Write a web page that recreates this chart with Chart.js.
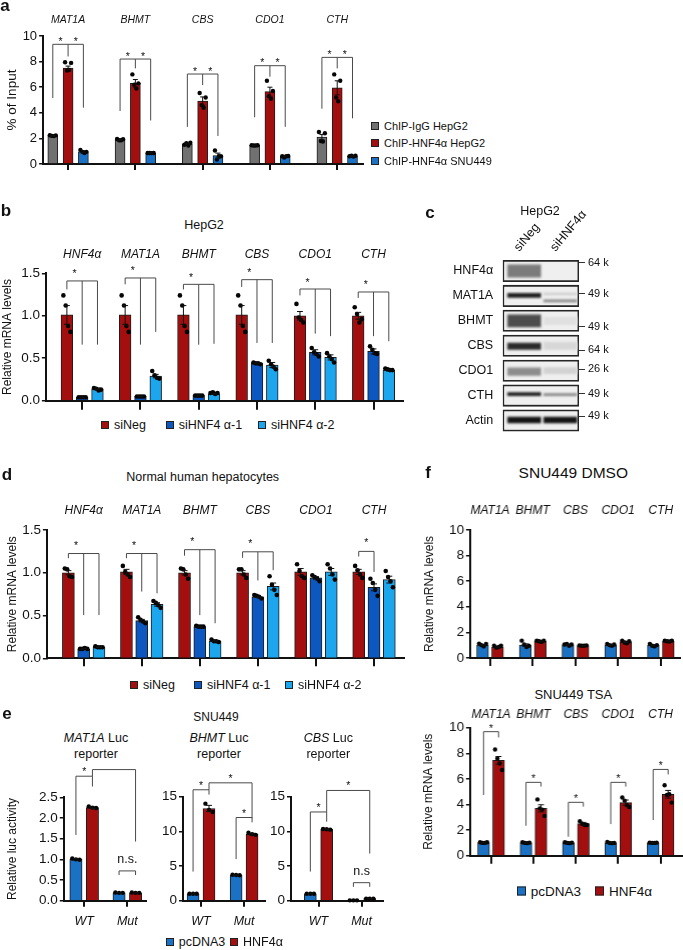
<!DOCTYPE html>
<html>
<head>
<meta charset="utf-8">
<title>HNF4α targets</title>
<script src="https://cdn.jsdelivr.net/npm/chart.js@4.4.1/dist/chart.umd.min.js"></script>
<style>
  body { margin: 0; background: #fff; }
  #fig { position: relative; width: 683px; height: 950px; overflow: hidden; background: #fff;
         font-family: "Liberation Sans", Arial, Helvetica, sans-serif; color: #111; }
  #fig canvas { position: absolute; }
  .t { position: absolute; transform: translate(-50%, -50%); white-space: nowrap; text-align: center; }
  .p { position: absolute; transform: translate(-50%, -50%); font-weight: bold; }
  .leg { position: absolute; display: flex; align-items: center; white-space: nowrap; transform: translateY(-50%); }
  .sw { display: inline-block; box-sizing: border-box; border: 1px solid #222; margin-right: 5px; }
</style>
</head>
<body>
<div id="fig"></div>
<script>
// ---------- a: ChIP, % of input
const aGenes = ['MAT1A', 'BHMT', 'CBS', 'CDO1', 'CTH'];
const aSeries = ['ChIP-IgG HepG2', 'ChIP-HNF4α HepG2', 'ChIP-HNF4α SNU449'];
const aTicks = [0, 2, 4, 6, 8, 10];
const aIgG = [2.2, 1.88, 1.56, 1.45, 2.1];
const aIgGSem = [0.03, 0.04, 0.06, 0.02, 0.2];
const aIgGPts = [[2.25, 2.2, 2.18, 2.24], [1.95, 1.86, 1.85, 1.93], [1.5, 1.62, 1.45, 1.66], [1.46, 1.44, 1.45, 1.47], [2.5, 1.8, 1.75, 2.4]];
const aHep = [7.5, 6.3, 4.92, 5.65, 5.95];
const aHepSem = [0.15, 0.3, 0.32, 0.35, 0.55];
const aHepPts = [[7.95, 7.3, 7.35, 7.9], [7.0, 6.2, 5.9, 6.3], [5.55, 4.6, 4.4, 5.2], [6.5, 5.3, 5.1, 5.7], [7.0, 5.2, 4.9, 6.5]];
const aSnu = [0.96, 0.86, 0.65, 0.58, 0.62];
const aSnuSem = [0.08, 0.01, 0.2, 0.05, 0.03];
const aSnuPts = [[1.1, 0.95, 0.85, 0.95], [0.86, 0.86, 0.85, 0.86], [1.05, 0.35, 0.6, 0.6], [0.6, 0.5, 0.6, 0.62], [0.6, 0.65, 0.58, 0.65]];
const aBrTop = [9.35, 8.2, 7.03, 7.68, 8.33];
const aBrLegs = [[5.15, 8.4, 4.4], [4.14, 7.47, 3.4], [2.9, 6.17, 2.19], [3.65, 6.82, 2.9], [4.32, 7.47, 3.57]];

// ---------- b: HepG2 knockdown
const bGenes = ['HNF4α', 'MAT1A', 'BHMT', 'CBS', 'CDO1', 'CTH'];
const siSeries = ['siNeg', 'siHNF4 α-1', 'siHNF4 α-2'];
const mTicks = [0, 0.5, 1.0, 1.5];
const bNeg = [1.01, 1.01, 1.01, 1.01, 1.0, 1.0];
const bNegSem = [0.11, 0.11, 0.11, 0.11, 0.05, 0.04];
const bNegPts = [[1.24, 1.12, 0.88, 0.81], [1.24, 1.12, 0.88, 0.81], [1.24, 1.12, 0.88, 0.81], [1.24, 1.12, 0.88, 0.81], [1.14, 0.98, 0.95, 0.92], [1.1, 1.02, 0.92, 0.96]];
const bSi1 = [0.04, 0.05, 0.06, 0.44, 0.57, 0.58];
const bSi1Sem = [0.004, 0.004, 0.004, 0.006, 0.03, 0.03];
const bSi1Pts = [[0.04, 0.04, 0.04, 0.04], [0.05, 0.05, 0.05, 0.05], [0.06, 0.06, 0.06, 0.06], [0.45, 0.44, 0.44, 0.43], [0.62, 0.57, 0.55, 0.52], [0.64, 0.6, 0.56, 0.55]];
const bSi2 = [0.14, 0.29, 0.08, 0.42, 0.51, 0.36];
const bSi2Sem = [0.01, 0.02, 0.005, 0.03, 0.03, 0.01];
const bSi2Pts = [[0.15, 0.14, 0.12, 0.13], [0.35, 0.3, 0.27, 0.26], [0.09, 0.1, 0.08, 0.09], [0.47, 0.43, 0.4, 0.37], [0.56, 0.52, 0.49, 0.45], [0.38, 0.37, 0.36, 0.36]];
const bBrTop = [1.41, 1.445, 1.37, 1.425, 1.315, 1.28];
const bBrLegs = [[1.31, 0.66, 0.66], [1.37, 0.66, 0.81], [1.31, 0.66, 0.67], [1.34, 0.68, 0.68], [1.24, 0.79, 0.76], [1.21, 0.76, 0.70]];

// ---------- c: western blot (HepG2)
const blotLanes = ['siNeg', 'siHNF4α'];
const blotRows = ['HNF4α', 'MAT1A', 'BHMT', 'CBS', 'CDO1', 'CTH', 'Actin'];
const blotMW = ['64 k', '49 k', '49 k', '64 k', '26 k', '49 k', '49 k'];
const mwPos = [-0.34, -0.08, 0.23, 0.18, -0.05, -0.07, -0.17];
const bandRow = [0, 1, 1, 1, 2, 2, 3, 3, 4, 4, 5, 5, 6, 6];
const bandLane = [0, 0, 1, 1, 0, 1, 0, 1, 0, 1, 0, 1, 0, 1];
const bandLevel = [0.5, 0.9, 0.15, 0.45, 0.7, 0.06, 0.85, 0.1, 0.42, 0.12, 0.9, 0.45, 0.95, 0.95];
const bandSize = [0.5, 0.17, 0.06, 0.08, 0.48, 0.3, 0.26, 0.3, 0.3, 0.25, 0.12, 0.09, 0.24, 0.24];
const bandShift = [0, -0.02, -0.08, 0.2, 0, 0, 0.02, 0, 0.04, 0, -0.06, -0.04, -0.02, -0.02];

// ---------- d: normal human hepatocytes
const dNeg = [1.0, 1.01, 1.0, 1.0, 1.01, 1.01];
const dNegSem = [0.025, 0.03, 0.025, 0.025, 0.04, 0.03];
const dNegPts = [[1.05, 1.04, 0.96, 0.95], [1.08, 1.01, 0.98, 0.95], [1.05, 1.04, 0.98, 0.93], [1.04, 1.04, 0.98, 0.94], [1.1, 1.02, 0.96, 0.94], [1.08, 1.03, 0.98, 0.94]];
const dSi1 = [0.11, 0.44, 0.37, 0.72, 0.94, 0.83];
const dSi1Sem = [0.004, 0.015, 0.004, 0.008, 0.015, 0.04];
const dSi1Pts = [[0.11, 0.11, 0.12, 0.11], [0.48, 0.45, 0.43, 0.41], [0.38, 0.37, 0.37, 0.37], [0.74, 0.73, 0.72, 0.7], [0.97, 0.95, 0.93, 0.9], [0.93, 0.88, 0.8, 0.73]];
const dSi2 = [0.13, 0.63, 0.2, 0.84, 1.01, 0.92];
const dSi2Sem = [0.004, 0.02, 0.007, 0.04, 0.04, 0.04];
const dSi2Pts = [[0.14, 0.13, 0.13, 0.13], [0.67, 0.65, 0.62, 0.59], [0.22, 0.2, 0.2, 0.19], [0.96, 0.86, 0.8, 0.74], [1.1, 1.05, 0.98, 0.92], [1.02, 0.95, 0.9, 0.83]];
const dBrTop = [1.225, 1.225, 1.27, 1.245, null, 1.25];
const dBrLegs = [[1.17, 0.505, 0.505], [1.17, 0.78, 0.76], [1.2, 0.505, 0.41], [1.175, 0.91, 1.03], null, [1.19, 1.01]];

// ---------- e: SNU449 luciferase reporters
const eSeries = ['pcDNA3', 'HNF4α'];
const eConstructs = ['WT', 'Mut'];
const eReporters = ['MAT1A', 'BHMT', 'CBS'];
const e1Ticks = [0, 0.5, 1.0, 1.5, 2.0, 2.5];
const e2Ticks = [0, 5, 10, 15];
const e1Pc = [1.0, 0.19], e1PcSem = [0.02, 0.005], e1PcPts = [[1.02, 1.0, 0.99], [0.2, 0.19, 0.19]];
const e1Hn = [2.25, 0.19], e1HnSem = [0.02, 0.005], e1HnPts = [[2.28, 2.25, 2.24], [0.2, 0.19, 0.19]];
const e2Pc = [1.0, 3.7], e2PcSem = [0.02, 0.05], e2PcPts = [[1.0, 1.0, 1.0], [3.75, 3.7, 3.68]];
const e2Hn = [13.3, 9.6], e2HnSem = [0.45, 0.12], e2HnPts = [[14.0, 13.1, 12.8], [9.8, 9.6, 9.5]];
const e3Pc = [1.0, 0.05], e3PcSem = [0.02, 0], e3PcPts = [[1.0, 1.0, 1.0], [0.05, 0.05, 0.05]];
const e3Hn = [10.3, 0.3], e3HnSem = [0.05, 0.01], e3HnPts = [[10.35, 10.3, 10.25], [0.3, 0.3, 0.3]];
// [legs [group, series, leg end], bracket top, label]
const e1Br = [[[[0, 0, 1.59], [0, 1, 2.76]], 3.01, '*'], [[[0, 1, 3.01], [1, 1, 1.43]], 3.17, '*'], [[[1, 0, 0.62], [1, 1, 0.62]], 0.72, 'n.s.']];
const e2Br = [[[[0, 0, 4.2], [0, 1, 15.3]], 16.0, '*'], [[[0, 1, 16.0], [1, 1, 11.9]], 17.0, '*'], [[[1, 0, 6.0], [1, 1, 11.3]], 12.0, '*']];
const e3Br = [[[[0, 0, 4.2], [0, 1, 11.4]], 12.8, '*'], [[[0, 1, 12.8], [1, 1, 6.8]], 15.9, '*'], [[[1, 0, 2.0], [1, 1, 2.0]], 2.6, 'n.s']];

// ---------- f: SNU449 DMSO / TSA
const fGenes = ['MAT1A', 'BHMT', 'CBS', 'CDO1', 'CTH'];
const fTicks = [0, 2, 4, 6, 8, 10];
const fDmPc = [1.0, 1.0, 1.0, 1.0, 0.98], fDmPcSem = [0.05, 0.1, 0.04, 0.04, 0.05];
const fDmPcPts = [[1.12, 1.0, 0.9, 1.1], [1.35, 1.05, 0.85, 0.95], [1.05, 1.1, 0.95, 1.05], [1.1, 1.0, 0.95, 1.05], [1.1, 0.95, 0.9, 1.0]];
const fDmHn = [0.85, 1.3, 0.95, 1.25, 1.3], fDmHnSem = [0.05, 0.03, 0.02, 0.05, 0.03];
const fDmHnPts = [[0.95, 0.8, 0.85, 0.95], [1.35, 1.3, 1.25, 1.35], [0.98, 0.95, 0.95, 0.98], [1.35, 1.2, 1.15, 1.3], [1.35, 1.3, 1.28, 1.35]];
const fTsPc = [1.0, 1.0, 1.0, 1.0, 1.0], fTsPcSem = [0.02, 0.02, 0.02, 0.02, 0.02];
const fTsPcPts = [[1.05, 1.0, 1.0, 1.05], [1.05, 1.0, 0.98, 1.02], [1.05, 1.0, 0.98, 1.02], [1.08, 1.0, 0.98, 1.0], [1.02, 1.0, 1.0, 1.02]];
const fTsHn = [7.45, 3.7, 2.5, 4.15, 4.8], fTsHnSem = [0.3, 0.28, 0.1, 0.2, 0.3];
const fTsHnPts = [[8.3, 7.6, 7.2, 6.7], [4.4, 3.7, 3.6, 3.1], [2.7, 2.5, 2.4, 2.4], [4.55, 4.3, 3.95, 3.8], [5.5, 4.75, 4.8, 4.15]];
const fBrTop = [9.69, 5.73, 4.17, 5.73, 6.74];
const fBrLegs = [[4.74, 9.24], [2.34, 5.4], [1.48, 3.83], [2.47, 5.4], [2.79, 6.35]];

// ---------- drawing
const FONT = '"Liberation Sans", Arial, Helvetica, sans-serif';
Chart.defaults.font.family = FONT;
Chart.defaults.color = '#111';
const RED = '#a30f0f', GREY = '#717171', BLUE = '#1b72c4', DBLUE = '#0d57c0', LBLUE = '#1ba6ee';
const fig = document.getElementById('fig');

function addCanvas(L, T, W, H) {
  const c = document.createElement('canvas');
  c.width = W; c.height = H;
  c.style.left = L + 'px'; c.style.top = T + 'px';
  c.style.width = W + 'px'; c.style.height = H + 'px';
  fig.appendChild(c);
  return c;
}

function text(x, y, html, size, cls) {
  const d = document.createElement('div');
  d.className = cls || 't';
  d.style.left = x + 'px'; d.style.top = y + 'px'; d.style.fontSize = size + 'px';
  d.innerHTML = html;
  fig.appendChild(d);
}

function legend(x, y, color, label, size, sw) {
  const d = document.createElement('div');
  d.className = 'leg';
  d.style.left = x + 'px'; d.style.top = y + 'px'; d.style.fontSize = size + 'px';
  const s = document.createElement('span');
  s.className = 'sw';
  s.style.width = sw + 'px'; s.style.height = sw + 'px'; s.style.background = color;
  d.appendChild(s);
  d.appendChild(document.createTextNode(label));
  fig.appendChild(d);
}

const brackets = (tops, legs, marks) => tops.map((top, g) => top == null ? null :
  ({top, legs: legs[g].map((v, k) => [g, k, v]), marks})).filter(Boolean);
const pairs = list => list.map(([legs, top, t]) => ({legs, top, marks: [[0, 1, t]]}));

function barPanel(o) {
  const ts = o.titleSize || 12;
  const L = o.yTitle ? o.titleX - ts * 0.6 : o.ax0 - 30;
  const cv = addCanvas(L, o.T, o.R - L, o.B - o.T);
  const ns = o.series.length;
  const off = k => (k - (ns - 1) / 2) * o.pitch / o.step;
  const xMin = (o.ax0 - o.c0) / o.step, xMax = (o.ax1 - o.c0) / o.step;
  const datasets = [];
  o.series.forEach((s, k) => datasets.push({
    type: 'bar', order: 2, grouped: false,
    data: s.mean.map((v, g) => ({x: g + off(k), y: v})),
    backgroundColor: s.color, borderColor: '#1c1c1c', borderWidth: 1,
    barThickness: o.barW, maxBarThickness: o.barW, categoryPercentage: 1, barPercentage: 1
  }));
  o.series.forEach((s, k) => {
    const data = [];
    s.pts.forEach((arr, g) => arr.forEach((v, j) => data.push({
      x: g + off(k) + (j - (arr.length - 1) / 2) * (o.barW * 0.6 / (arr.length - 1)) / o.step, y: v})));
    datasets.push({type: 'scatter', order: 1, data, clip: false,
      pointRadius: o.dot || 2.2, pointBackgroundColor: '#050505', pointBorderWidth: 0});
  });

  const deco = {
    id: 'deco',
    afterDatasetsDraw(chart) {
      const {ctx, scales: {x, y}} = chart;
      const px = (g, k) => x.getPixelForValue(g + off(k));
      ctx.save();
      ctx.strokeStyle = '#111';
      ctx.lineWidth = 1;
      o.series.forEach((s, k) => s.mean.forEach((m, g) => {
        const e = s.sem[g];
        if (!e) return;
        const cx = px(g, k), yt = y.getPixelForValue(m + e), yb = y.getPixelForValue(Math.max(0, m - e));
        const hw = o.barW * 0.25;
        ctx.beginPath();
        ctx.moveTo(cx, yb); ctx.lineTo(cx, yt);
        ctx.moveTo(cx - hw, yt); ctx.lineTo(cx + hw, yt);
        ctx.moveTo(cx - hw, yb); ctx.lineTo(cx + hw, yb);
        ctx.stroke();
      }));
      ctx.strokeStyle = '#4a4a4a';
      ctx.fillStyle = '#111';
      ctx.textAlign = 'center';
      (o.brackets || []).forEach(b => {
        const xs = b.legs.map(l => px(l[0], l[1]));
        const yt = y.getPixelForValue(b.top);
        ctx.beginPath();
        ctx.moveTo(xs[0], yt); ctx.lineTo(xs[xs.length - 1], yt);
        b.legs.forEach((l, i) => { ctx.moveTo(xs[i], yt); ctx.lineTo(xs[i], y.getPixelForValue(l[2])); });
        ctx.stroke();
        b.marks.forEach(([i, j, t]) => {
          const star = t === '*';
          ctx.font = (star ? (o.starSize || 10.5) : (o.nsSize || 12)) + 'px ' + FONT;
          ctx.textBaseline = 'alphabetic';
          ctx.fillText(t, (xs[i] + xs[j]) / 2, yt + (star ? (o.starDy || 0) : (o.nsDy || -8)));
        });
      });
      if (o.geneY != null) {
        ctx.font = 'italic ' + o.geneSize + 'px ' + FONT;
        ctx.textBaseline = 'middle';
        o.groups.forEach((name, g) => ctx.fillText(name, x.getPixelForValue(g), o.geneY - o.T));
      }
      ctx.restore();
    }
  };

  new Chart(cv, {
    type: 'bar',
    data: {datasets},
    options: {
      responsive: false, animation: false, events: [],
      layout: {padding: {left: 0, right: o.R - o.ax1, top: o.ayTop - o.T, bottom: 0}, autoPadding: false},
      plugins: {legend: {display: false}, tooltip: {enabled: false}},
      scales: {
        x: {
          type: 'linear', min: xMin, max: xMax, bounds: 'data', offset: false,
          afterBuildTicks: s => { s.ticks = o.groups.map((_, g) => ({value: g})); },
          ticks: {display: !!o.xNames, autoSkip: false, maxRotation: 0, padding: o.xPad || 0,
            font: {size: o.xSize || 12, style: 'italic'},
            callback: v => o.xNames ? o.xNames[Math.round(v)] : ''},
          grid: {offset: false, drawOnChartArea: false, drawTicks: true, tickLength: o.xTickLen, color: '#111', lineWidth: 2},
          border: {display: true, color: '#111', width: 2},
          afterFit: s => { s.height = o.B - o.ayBot; }
        },
        y: {
          type: 'linear', min: o.yTicks[0], max: o.yTicks[o.yTicks.length - 1], bounds: 'data', offset: false,
          afterBuildTicks: s => { s.ticks = o.yTicks.map(v => ({value: v})); },
          ticks: {autoSkip: false, padding: 2, font: {size: o.tickSize}, callback: v => v.toFixed(o.dec)},
          grid: {offset: false, drawOnChartArea: false, drawTicks: true, tickLength: 4, color: '#111', lineWidth: 1.5},
          border: {display: true, color: '#111', width: 2},
          title: {display: !!o.yTitle, text: o.yTitle || '', font: {size: ts}, padding: 0},
          afterFit: s => { s.width = o.ax0 - L; }
        }
      }
    },
    plugins: [deco]
  });
}

// a
barPanel({T: 0, B: 178, R: 366, titleX: 12, titleSize: 13.5, yTitle: '% of Input',
  ax0: 43, ax1: 363, ayTop: 36, ayBot: 164, c0: 68, step: 67.3, barW: 10, pitch: 15.3,
  groups: aGenes, geneY: 20, geneSize: 10.5, yTicks: aTicks, dec: 0, tickSize: 13, xTickLen: 6,
  series: [{color: GREY, mean: aIgG, sem: aIgGSem, pts: aIgGPts},
           {color: RED, mean: aHep, sem: aHepSem, pts: aHepPts},
           {color: BLUE, mean: aSnu, sem: aSnuSem, pts: aSnuPts}],
  brackets: brackets(aBrTop, aBrLegs, [[0, 1, '*'], [1, 2, '*']]), starSize: 10.5, starDy: 0.5});

// b
barPanel({T: 240, B: 415, R: 406, titleX: 7, yTitle: 'Relative mRNA levels',
  ax0: 45.7, ax1: 403, ayTop: 273.3, ayBot: 400.7, c0: 82, step: 58.3, barW: 11.7, pitch: 15.3, dot: 2.3,
  groups: bGenes, geneY: 255, geneSize: 12, yTicks: mTicks, dec: 1, tickSize: 13.5, xTickLen: 9,
  series: [{color: RED, mean: bNeg, sem: bNegSem, pts: bNegPts},
           {color: DBLUE, mean: bSi1, sem: bSi1Sem, pts: bSi1Pts},
           {color: LBLUE, mean: bSi2, sem: bSi2Sem, pts: bSi2Pts}],
  brackets: brackets(bBrTop, bBrLegs, [[0, 1, '*']]), starDy: -3.5});

// d
barPanel({T: 495, B: 672, R: 407, titleX: 12, yTitle: 'Relative mRNA levels',
  ax0: 46.7, ax1: 404, ayTop: 530, ayBot: 658.3, c0: 83.5, step: 58.1, barW: 12, pitch: 15.3, dot: 2.3,
  groups: bGenes, geneY: 510.7, geneSize: 12, yTicks: mTicks, dec: 1, tickSize: 13.5, xTickLen: 8,
  series: [{color: RED, mean: dNeg, sem: dNegSem, pts: dNegPts},
           {color: DBLUE, mean: dSi1, sem: dSi1Sem, pts: dSi1Pts},
           {color: LBLUE, mean: dSi2, sem: dSi2Sem, pts: dSi2Pts}],
  brackets: brackets(dBrTop, dBrLegs, [[0, 1, '*']]), starDy: -5});

// e
const eCommon = {T: 765, B: 932, ayBot: 900.7, groups: eConstructs, xNames: eConstructs, xSize: 12.5, xPad: 7,
  xTickLen: 6, tickSize: 13.5, starDy: -1, nsDy: -8, nsSize: 12.5, dot: 2.2};
barPanel(Object.assign({}, eCommon, {R: 150, titleX: 11.7, yTitle: 'Relative luc activity',
  ax0: 63.3, ax1: 145.7, ayTop: 797.3, c0: 83.8, step: 43.4, barW: 12.3, pitch: 16.6,
  yTicks: e1Ticks, dec: 1,
  series: [{color: BLUE, mean: e1Pc, sem: e1PcSem, pts: e1PcPts}, {color: RED, mean: e1Hn, sem: e1HnSem, pts: e1HnPts}],
  brackets: pairs(e1Br)}));
barPanel(Object.assign({}, eCommon, {R: 268,
  ax0: 182.7, ax1: 265, ayTop: 796.7, c0: 200.8, step: 43.2, barW: 12, pitch: 16,
  yTicks: e2Ticks, dec: 0,
  series: [{color: BLUE, mean: e2Pc, sem: e2PcSem, pts: e2PcPts}, {color: RED, mean: e2Hn, sem: e2HnSem, pts: e2HnPts}],
  brackets: pairs(e2Br)}));
barPanel(Object.assign({}, eCommon, {R: 386,
  ax0: 290.7, ax1: 383, ayTop: 796.7, c0: 318.3, step: 43.2, barW: 12, pitch: 16.4,
  yTicks: e2Ticks, dec: 0,
  series: [{color: BLUE, mean: e3Pc, sem: e3PcSem, pts: e3PcPts}, {color: RED, mean: e3Hn, sem: e3HnSem, pts: e3HnPts}],
  brackets: pairs(e3Br)}));

// f
barPanel({T: 500, B: 668, R: 683, titleX: 429.3, yTitle: 'Relative mRNA levels',
  ax0: 470, ax1: 680, ayTop: 530, ayBot: 658.3, c0: 490, step: 42.7, barW: 11.7, pitch: 15,
  groups: fGenes, geneY: 510.7, geneSize: 12, yTicks: fTicks, dec: 0, tickSize: 13.5, xTickLen: 8,
  series: [{color: BLUE, mean: fDmPc, sem: fDmPcSem, pts: fDmPcPts}, {color: RED, mean: fDmHn, sem: fDmHnSem, pts: fDmHnPts}]});
barPanel({T: 705, B: 868, R: 683, titleX: 428.3, yTitle: 'Relative mRNA levels',
  ax0: 470, ax1: 681.7, ayTop: 727.7, ayBot: 855.7, c0: 491, step: 42.4, barW: 11.7, pitch: 15,
  groups: fGenes, geneY: 714.3, geneSize: 12, yTicks: fTicks, dec: 0, tickSize: 13.5, xTickLen: 8,
  series: [{color: BLUE, mean: fTsPc, sem: fTsPcSem, pts: fTsPcPts}, {color: RED, mean: fTsHn, sem: fTsHnSem, pts: fTsHnPts}],
  brackets: brackets(fBrTop, fBrLegs, [[0, 1, '*']]), starDy: 0});

// c: blot drawn as floating bars
(function () {
  const L = 420, T = 195, R = 683, B = 450;
  const ax0 = 502.7, ax1 = 579, ayTop = 258.5, ayBot = 443.5;
  const lane0 = 524.2, lanePx = 36.1;
  const cv = addCanvas(L, T, R - L, B - T);
  const xMin = (ax0 - lane0) / lanePx, xMax = (ax1 - lane0) / lanePx;
  const boxX = (xMin + xMax) / 2;
  const boxes = blotRows.map((_, r) => ({x: boxX, y: [r - 0.43, r + 0.43]}));
  const bands = bandRow.map((r, i) => ({x: bandLane[i],
    y: [r + bandShift[i] - bandSize[i] / 2, r + bandShift[i] + bandSize[i] / 2]}));
  const bandColors = bandLevel.map(v => { const c = Math.round(238 - 230 * v); return `rgb(${c},${c},${c})`; });
  const blur = {
    id: 'blur',
    beforeDatasetDraw(chart, args) { if (args.index === 1) { chart.ctx.save(); chart.ctx.filter = 'blur(1.2px)'; } },
    afterDatasetDraw(chart, args) { if (args.index === 1) chart.ctx.restore(); }
  };
  new Chart(cv, {
    type: 'bar',
    data: {datasets: [
      {data: boxes, backgroundColor: '#efefef', borderColor: '#262626', borderWidth: 1.8, borderSkipped: false,
       barThickness: ax1 - ax0, maxBarThickness: ax1 - ax0, categoryPercentage: 1, barPercentage: 1, grouped: false, order: 2},
      {data: bands, backgroundColor: bandColors, borderWidth: 0,
       barThickness: 33, maxBarThickness: 33, categoryPercentage: 1, barPercentage: 1, grouped: false, order: 1}
    ]},
    options: {
      responsive: false, animation: false, events: [],
      layout: {padding: {left: 0, right: 0, top: 0, bottom: B - ayBot}, autoPadding: false},
      plugins: {legend: {display: false}, tooltip: {enabled: false}},
      scales: {
        x: {type: 'linear', position: 'top', min: xMin, max: xMax, bounds: 'data', offset: false,
          afterBuildTicks: s => { s.ticks = blotLanes.map((_, i) => ({value: i})); },
          ticks: {autoSkip: false, minRotation: 50, maxRotation: 50, padding: 4, labelOffset: 4, font: {size: 12.5},
            callback: v => blotLanes[Math.round(v)]},
          grid: {display: false, drawTicks: false, offset: false}, border: {display: false},
          afterFit: s => { s.height = ayTop - T; }},
        y: {type: 'linear', reverse: true, min: -0.5, max: 6.5, bounds: 'data', offset: false,
          afterBuildTicks: s => { s.ticks = blotRows.map((_, i) => ({value: i})); },
          ticks: {autoSkip: false, padding: 9.5, font: {size: 12.5}, callback: v => blotRows[Math.round(v)]},
          grid: {display: false, drawTicks: false}, border: {display: false},
          afterFit: s => { s.width = ax0 - L; }},
        y2: {type: 'linear', position: 'right', reverse: true, min: -0.5, max: 6.5, bounds: 'data', offset: false,
          afterBuildTicks: s => { s.ticks = blotMW.map((_, i) => ({value: i + mwPos[i]})); },
          ticks: {autoSkip: false, padding: 3, font: {size: 11}, callback: (v, i) => blotMW[i]},
          grid: {drawOnChartArea: false, drawTicks: true, tickLength: 6, color: '#333', lineWidth: 1},
          border: {display: false},
          afterFit: s => { s.width = R - ax1; }}
      }
    },
    plugins: [blur]
  });
})();

// titles, panel letters, legends
text(5, 6, 'a', 17, 'p');
text(6, 211, 'b', 17, 'p');
text(430, 213, 'c', 17, 'p');
text(7, 475, 'd', 17, 'p');
text(7, 714, 'e', 17, 'p');
text(428, 473, 'f', 17, 'p');
text(204, 225, 'HepG2', 12.5);
text(540, 210.7, 'HepG2', 12.5);
text(202.7, 477.3, 'Normal human hepatocytes', 12.5);
text(216, 716.7, 'SNU449', 12);
[96, 219, 328.3].forEach((x, i) =>
  text(x, 747, `<div style="line-height:15.7px"><i>${eReporters[i]}</i> Luc<br>reporter</div>`, 12.5));
text(573.3, 473.3, 'SNU449 DMSO', 15.5);
text(573.3, 693.8, 'SNU449 TSA', 13);

[[GREY, 125.7], [RED, 143.3], [BLUE, 161]].forEach(([c, y], i) => legend(371, y, c, aSeries[i], 11, 8));
[[RED, 101], [DBLUE, 165.7], [LBLUE, 258]].forEach(([c, x], i) => legend(x, 425, c, siSeries[i], 12.5, 8));
[[RED, 130], [DBLUE, 194], [LBLUE, 285]].forEach(([c, x], i) => legend(x, 685, c, siSeries[i], 12.5, 8));
[[BLUE, 165.7], [RED, 230]].forEach(([c, x], i) => legend(x, 942, c, eSeries[i], 12.5, 8));
[[BLUE, 516.7], [RED, 595]].forEach(([c, x], i) => legend(x, 890.7, c, eSeries[i], 13.5, 9));
</script>
</body>
</html>
